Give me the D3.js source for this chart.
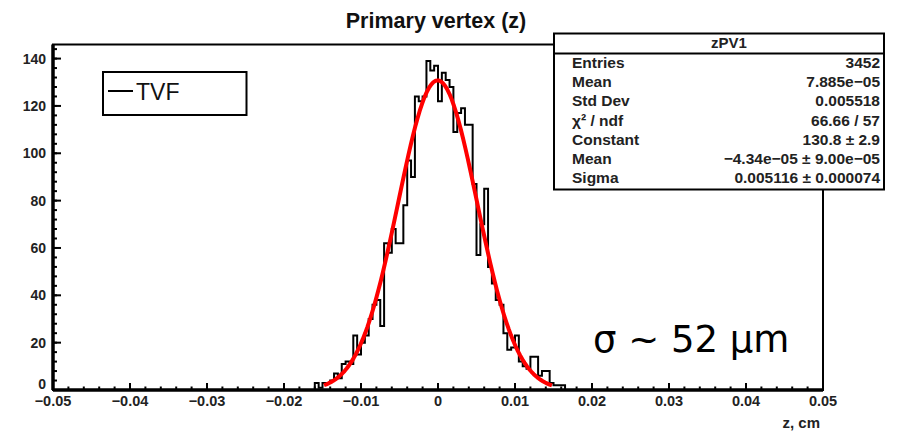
<!DOCTYPE html>
<html>
<head>
<meta charset="utf-8">
<script src="https://cdn.jsdelivr.net/npm/d3@7"></script>
<style>
  html, body { margin: 0; padding: 0; background: #fff; }
  svg { display: block; }
</style>
</head>
<body>
<svg id="chart" width="909" height="433"></svg>
<script>
// ---------------- data ----------------
const binLow = -0.0165;          // low edge of first listed bin
const binWidth = 0.0005;         // 200 bins over [-0.05, 0.05]
const counts = [0, 3, 1, 3, 3, 4, 7, 5, 11, 12, 11, 23, 15, 20, 23, 30, 36, 38, 27, 62,
  58, 68, 62, 62, 78, 97, 90, 124, 122, 124, 139, 135, 137, 122, 134, 131, 128, 109, 117, 119,
  112, 112, 87, 57, 70, 85, 52, 45, 38, 36, 24, 17, 18, 23, 12, 10, 9, 14, 14, 6,
  8, 8, 3, 2, 2, 2];
const fitParams = [130.8, -4.34e-05, 0.005116];   // constant, mean, sigma
const fitRange = [-0.0148, 0.0148];
const xTicks = [-0.05, -0.04, -0.03, -0.02, -0.01, 0, 0.01, 0.02, 0.03, 0.04, 0.05];
const xTickLabels = ["\u22120.05", "\u22120.04", "\u22120.03", "\u22120.02", "\u22120.01", "0", "0.01", "0.02", "0.03", "0.04", "0.05"];
const yTicks = [0, 20, 40, 60, 80, 100, 120, 140];
const statLabels = ["Entries", "Mean", "Std Dev", "\u03c7\u00b2 / ndf", "Constant", "Mean", "Sigma"];
const statValues = ["3452", "7.885e\u221205", "0.005518", "66.66 / 57", "130.8 \u00b1 2.9",
  "\u22124.34e\u221205 \u00b1 9.00e\u221205", "0.005116 \u00b1 0.000074"];

// ---------------- layout ----------------
const L = 53, R = 823, T = 44.5, B = 390;
const svg = d3.select("#chart");
const ymax = 1.05 * d3.max(counts);
const x = d3.scaleLinear().domain([-0.05, 0.05]).range([L, R]);
const y = d3.scaleLinear().domain([0, ymax]).range([B, T]);
const FONT = "'Liberation Sans', Arial, Helvetica, sans-serif";

// frame
svg.append("rect").attr("x", L).attr("y", T).attr("width", R - L).attr("height", B - T)
  .attr("fill", "none").attr("stroke", "#000").attr("stroke-width", 2);

// histogram step outline
const pts = [[x(binLow), y(0)]];
counts.forEach((c, i) => {
  const x0 = binLow + i * binWidth, x1 = x0 + binWidth;
  pts.push([x(x0), y(c)], [x(x1), y(c)]);
});
pts.push([x(binLow + counts.length * binWidth), y(0)]);
svg.append("path").attr("d", d3.line()(pts)).attr("fill", "none")
  .attr("stroke", "#000").attr("stroke-width", 2);

// fit curve
const gauss = v => fitParams[0] * Math.exp(-0.5 * Math.pow((v - fitParams[1]) / fitParams[2], 2));
const fx = d3.range(101).map(i => fitRange[0] + i * (fitRange[1] - fitRange[0]) / 100);
svg.append("path").attr("d", d3.line().x(d => x(d)).y(d => y(gauss(d)))(fx))
  .attr("fill", "none").attr("stroke", "#ff0000").attr("stroke-width", 4)
  .attr("stroke-linejoin", "round");

// x axis
const xMinor = d3.range(-0.05, 0.0501, 0.002);
svg.append("g").selectAll("line").data(xMinor).join("line")
  .attr("x1", d => x(d)).attr("x2", d => x(d)).attr("y1", B).attr("y2", B - 3.5)
  .attr("stroke", "#000").attr("stroke-width", 2);
svg.append("g").selectAll("line").data(xTicks).join("line")
  .attr("x1", d => x(d)).attr("x2", d => x(d)).attr("y1", B).attr("y2", B - 7)
  .attr("stroke", "#000").attr("stroke-width", 2);
svg.append("g").selectAll("text").data(xTicks).join("text")
  .attr("x", d => x(d)).attr("y", 406).attr("text-anchor", "middle")
  .attr("font-family", FONT).attr("font-weight", "bold").attr("font-size", 14.5)
  .attr("fill", "#222").text((d, i) => xTickLabels[i]);
svg.append("line").attr("x1", L).attr("x2", R).attr("y1", B).attr("y2", B)
  .attr("stroke", "#000").attr("stroke-width", 3.5);

// y axis
const yMinor = d3.range(0, ymax, 4);
svg.append("g").selectAll("line").data(yMinor).join("line")
  .attr("x1", L).attr("x2", L + 4).attr("y1", d => y(d)).attr("y2", d => y(d))
  .attr("stroke", "#000").attr("stroke-width", 2);
svg.append("g").selectAll("line").data(yTicks).join("line")
  .attr("x1", L).attr("x2", L + 8).attr("y1", d => y(d)).attr("y2", d => y(d))
  .attr("stroke", "#000").attr("stroke-width", 2);
svg.append("g").selectAll("text").data(yTicks).join("text")
  .attr("x", 46).attr("y", d => d === 0 ? y(d) - 1 : y(d) + 5).attr("text-anchor", "end")
  .attr("font-family", FONT).attr("font-weight", "bold").attr("font-size", 14)
  .attr("fill", "#222").text(d => d);
svg.append("line").attr("x1", L).attr("x2", L).attr("y1", T).attr("y2", B)
  .attr("stroke", "#000").attr("stroke-width", 3.5);

// axis title
svg.append("text").attr("x", 820).attr("y", 428).attr("text-anchor", "end")
  .attr("font-family", FONT).attr("font-weight", "bold").attr("font-size", 15)
  .attr("fill", "#222").text("z, cm");

// title
svg.append("text").attr("x", 436).attr("y", 28).attr("text-anchor", "middle")
  .attr("font-family", FONT).attr("font-weight", "bold").attr("font-size", 21.5)
  .attr("fill", "#111").text("Primary vertex (z)");

// legend
svg.append("rect").attr("x", 103).attr("y", 72).attr("width", 143.5).attr("height", 43)
  .attr("fill", "#fff").attr("stroke", "#000").attr("stroke-width", 2);
svg.append("line").attr("x1", 108).attr("x2", 133).attr("y1", 91).attr("y2", 91)
  .attr("stroke", "#000").attr("stroke-width", 2);
svg.append("text").attr("x", 136).attr("y", 99.5)
  .attr("font-family", FONT).attr("font-size", 23).attr("fill", "#111").text("TVF");

// stats box
const SB = {x0: 554, x1: 884, y0: 33.5, y1: 189.5, sep: 53.5};
svg.append("rect").attr("x", SB.x0).attr("y", SB.y0).attr("width", SB.x1 - SB.x0).attr("height", SB.y1 - SB.y0)
  .attr("fill", "#fff").attr("stroke", "#000").attr("stroke-width", 2);
svg.append("line").attr("x1", SB.x0).attr("x2", SB.x1).attr("y1", SB.sep).attr("y2", SB.sep)
  .attr("stroke", "#000").attr("stroke-width", 2);
svg.append("text").attr("x", 729).attr("y", 48).attr("text-anchor", "middle")
  .attr("font-family", FONT).attr("font-weight", "bold").attr("font-size", 15)
  .attr("fill", "#222").text("zPV1");
svg.append("g").selectAll("text").data(statLabels).join("text")
  .attr("x", 572).attr("y", (d, i) => 68 + i * 19.2)
  .attr("font-family", FONT).attr("font-weight", "bold").attr("font-size", 15.5)
  .attr("fill", "#222").text(d => d);
svg.append("g").selectAll("text").data(statValues).join("text")
  .attr("x", 880).attr("y", (d, i) => 68 + i * 19.2).attr("text-anchor", "end")
  .attr("font-family", FONT).attr("font-weight", "bold").attr("font-size", 15.5)
  .attr("fill", "#222").text(d => d);

// annotation
svg.append("text").attr("x", 593).attr("y", 352)
  .attr("font-family", "'DejaVu Sans', sans-serif").attr("font-size", 37)
  .attr("fill", "#000").text("\u03c3 ~ 52 \u03bcm");
</script>
</body>
</html>
